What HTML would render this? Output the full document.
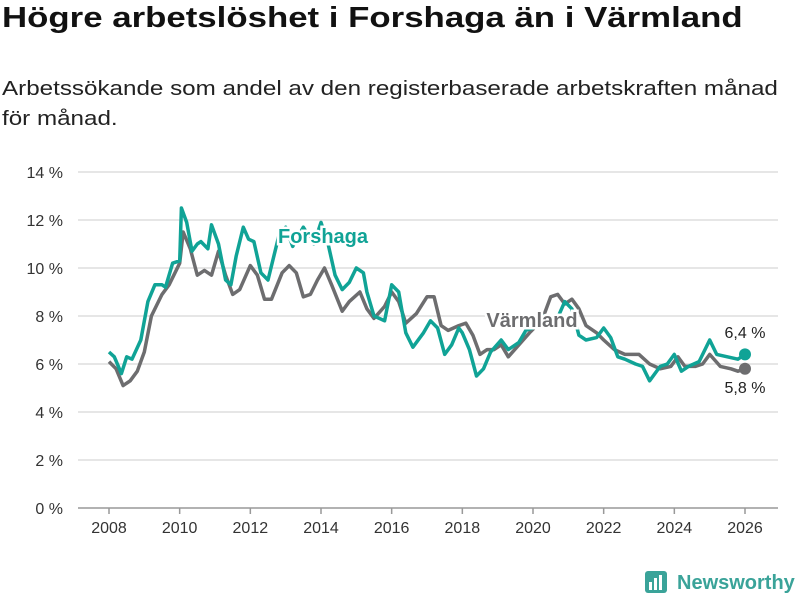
<!DOCTYPE html>
<html><head><meta charset="utf-8">
<style>
body{margin:0;width:800px;height:600px;background:#fff;font-family:"Liberation Sans","DejaVu Sans",sans-serif;overflow:hidden;position:relative}
h1{position:absolute;left:2px;top:2px;margin:0;font-size:29px;font-weight:bold;color:#111;white-space:nowrap;transform:scaleX(1.20);transform-origin:0 0}
p{position:absolute;left:2px;top:74px;margin:0;font-size:20.5px;line-height:30px;color:#222;white-space:nowrap;transform:scaleX(1.18);transform-origin:0 0}
svg{position:absolute;left:0;top:0}
</style></head><body>
<h1>Högre arbetslöshet i Forshaga än i Värmland</h1>
<p>Arbetssökande som andel av den registerbaserade arbetskraften månad<br>för månad.</p>
<svg id="chart" width="800" height="600"></svg>
<script>
const yTicks=[0,2,4,6,8,10,12,14];
const xTicks=[2008,2010,2012,2014,2016,2018,2020,2022,2024,2026];
const varmYears=[2008.0,2008.2,2008.4,2008.6,2008.8,2009.0,2009.2,2009.5,2009.7,2010.0,2010.1,2010.3,2010.5,2010.7,2010.9,2011.1,2011.3,2011.5,2011.7,2012.0,2012.2,2012.4,2012.6,2012.9,2013.1,2013.3,2013.5,2013.7,2013.9,2014.1,2014.3,2014.6,2014.8,2015.1,2015.3,2015.5,2015.8,2016.0,2016.2,2016.4,2016.7,2017.0,2017.2,2017.4,2017.6,2017.9,2018.1,2018.3,2018.5,2018.7,2018.9,2019.1,2019.3,2019.6,2019.9,2020.1,2020.3,2020.5,2020.7,2020.9,2021.1,2021.3,2021.5,2021.8,2022.0,2022.3,2022.6,2022.8,2023.0,2023.3,2023.6,2023.9,2024.1,2024.3,2024.6,2024.8,2025.0,2025.3,2025.6,2025.8,2026.0];
const varmValues=[6.1,5.8,5.1,5.3,5.7,6.5,8.0,8.9,9.3,10.2,11.5,10.8,9.7,9.9,9.7,10.7,9.7,8.9,9.1,10.1,9.7,8.7,8.7,9.8,10.1,9.8,8.8,8.9,9.5,10.0,9.3,8.2,8.6,9.0,8.3,7.9,8.4,9.0,8.6,7.7,8.1,8.8,8.8,7.6,7.4,7.6,7.7,7.2,6.4,6.6,6.6,6.8,6.3,6.8,7.3,7.6,8.0,8.8,8.9,8.5,8.7,8.3,7.6,7.3,7.0,6.6,6.4,6.4,6.4,6.0,5.8,5.9,6.3,5.9,5.9,6.0,6.4,5.9,5.8,5.7,5.8];
const forsYears=[2008.0,2008.15,2008.35,2008.5,2008.65,2008.9,2009.1,2009.3,2009.5,2009.6,2009.8,2010.0,2010.05,2010.2,2010.35,2010.5,2010.6,2010.8,2010.9,2011.1,2011.3,2011.45,2011.6,2011.8,2011.95,2012.1,2012.3,2012.5,2012.8,2013.0,2013.2,2013.5,2013.8,2014.0,2014.2,2014.4,2014.6,2014.8,2015.0,2015.2,2015.3,2015.5,2015.8,2016.0,2016.2,2016.4,2016.6,2016.9,2017.1,2017.3,2017.5,2017.7,2017.9,2018.0,2018.2,2018.4,2018.6,2018.8,2019.1,2019.3,2019.6,2019.8,2020.0,2020.3,2020.6,2020.9,2021.1,2021.3,2021.5,2021.8,2022.0,2022.2,2022.4,2022.6,2022.9,2023.1,2023.3,2023.6,2023.8,2024.0,2024.2,2024.4,2024.7,2025.0,2025.2,2025.5,2025.8,2026.0];
const forsValues=[6.5,6.3,5.6,6.3,6.2,7.0,8.6,9.3,9.3,9.2,10.2,10.3,12.5,11.9,10.7,11.0,11.1,10.8,11.8,11.0,9.5,9.3,10.5,11.7,11.2,11.1,9.8,9.5,11.3,11.7,10.9,11.7,11.0,11.9,11.0,9.7,9.1,9.4,10.0,9.8,9.0,8.0,7.8,9.3,9.0,7.3,6.7,7.3,7.8,7.5,6.4,6.8,7.5,7.3,6.6,5.5,5.8,6.5,7.0,6.6,6.9,7.4,7.5,8.0,7.6,8.6,8.3,7.2,7.0,7.1,7.5,7.1,6.3,6.2,6.0,5.9,5.3,5.9,6.0,6.4,5.7,5.9,6.1,7.0,6.4,6.3,6.2,6.4];
const NS="http://www.w3.org/2000/svg";
const svg=document.getElementById('chart');
const X=v=>109+(v-2008)*(745-109)/18;
const Y=v=>508-v*24;
function el(t,a,p){const e=document.createElementNS(NS,t);for(const k in a)e.setAttribute(k,a[k]);(p||svg).appendChild(e);return e;}
yTicks.forEach(v=>{
  const l=el('line',{x1:78,x2:778,y1:Y(v),y2:Y(v),stroke:v===0?'#999':'#ddd','stroke-width':1.5});
  
  
  const t=el('text',{x:63,y:Y(v)+6,'text-anchor':'end','font-size':16,fill:'#333'});
  t.textContent=v+' %';
  
  
});
xTicks.forEach(v=>{
  const l=el('line',{x1:X(v),x2:X(v),y1:508,y2:514,stroke:'#999','stroke-width':1.5});
  
  
  const t=el('text',{x:X(v),y:533,'text-anchor':'middle','font-size':16,fill:'#333'});
  t.textContent=v;
  
  
});
function line(xs,vs,c,name){
  const d=xs.map((x,i)=>(i?'L':'M')+X(x).toFixed(1)+','+Y(vs[i]).toFixed(1)).join('');
  const p=el('path',{d:d,fill:'none',stroke:c,'stroke-width':3.5,'stroke-linejoin':'round'});
  
  
  const n=xs.length-1;
  const c2=el('circle',{cx:X(xs[n]),cy:Y(vs[n]),r:6,fill:c});
  
  
}
line(varmYears,varmValues,'#6d6d6f','varmland-line');
line(forsYears,forsValues,'#10a396','forshaga-line');
function lab(x,y,txt,c,name,size,bold,halo){
  const t=el('text',{x:x,y:y,'text-anchor':'middle','font-size':size,'font-weight':bold?'bold':'normal',fill:c,stroke:halo?'#fff':'none','stroke-width':halo?5:0,'paint-order':'stroke'});
  t.textContent=txt;
  
  
}
lab(323,243,'Forshaga','#10a396','forshaga-label',20,true,true);
lab(532,327,'Värmland','#6d6d6f','varmland-label',20,true,true);
lab(745,338,'6,4 %','#222','forshaga-end-value',16,false,false);
lab(745,393,'5,8 %','#222','varmland-end-value',16,false,false);
</script>
<svg width="160" height="40" style="left:640px;top:563px">
  <rect x="5" y="8" width="22" height="22" rx="3" fill="#3aa399"/>
  <rect x="9" y="19" width="3" height="8" fill="#fff"/><rect x="14" y="15" width="3" height="12" fill="#fff"/><rect x="19" y="12" width="3" height="15" fill="#fff"/>
  <text x="37" y="26" font-size="20" font-weight="bold" fill="#3aa399" font-family="Liberation Sans, sans-serif">Newsworthy</text>
</svg>
</body></html>
